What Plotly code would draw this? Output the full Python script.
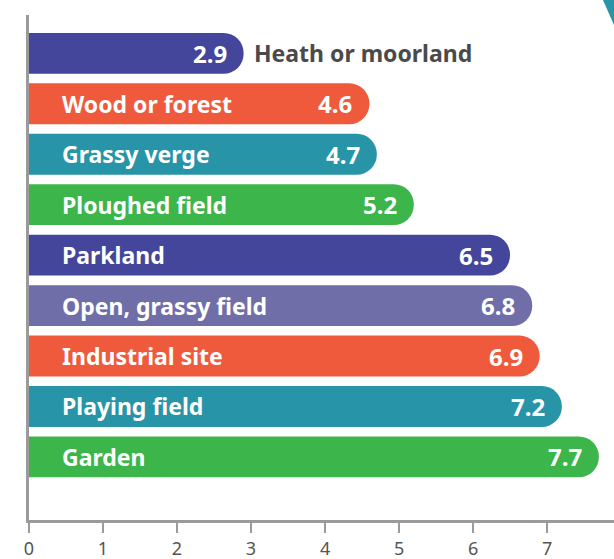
import plotly.graph_objects as go

categories = ["Heath or moorland", "Wood or forest", "Grassy verge", "Ploughed field", "Parkland",
              "Open, grassy field", "Industrial site", "Playing field", "Garden"]
values = [2.9, 4.6, 4.7, 5.2, 6.5, 6.8, 6.9, 7.2, 7.7]
colors = ["#43469b", "#ef5a3c", "#2794a8", "#3cb54a", "#43469b", "#6f6ea9", "#ef5a3c", "#2794a8", "#3cb54a"]
tick_values = [0, 1, 2, 3, 4, 5, 6, 7]

font = "Noto Sans, Open Sans, sans-serif"
positions = list(range(len(categories)))

fig = go.Figure(
    go.Bar(
        x=values,
        y=positions,
        orientation="h",
        width=0.81,
        marker=dict(color=colors, cornerradius=20, line=dict(width=0)),
        hoverinfo="skip",
    )
)

annotations = []
for pos, cat, val in zip(positions, categories, values):
    annotations.append(dict(x=val, y=pos, text=f"<b>{val}</b>", showarrow=False, xanchor="right",
                            xshift=-15, font=dict(family=font, size=24, color="white")))
    if val < 4:
        annotations.append(dict(x=val, y=pos, text=f"<b>{cat}</b>", showarrow=False, xanchor="left",
                                xshift=8, font=dict(family=font, size=23, color="#4a4a4a")))
    else:
        annotations.append(dict(x=0, y=pos, text=f"<b>{cat}</b>", showarrow=False, xanchor="left",
                                xshift=31, font=dict(family=font, size=23, color="white")))

fig.update_layout(
    width=614,
    height=559,
    margin=dict(l=29, r=0, t=15, b=39),
    plot_bgcolor="white",
    paper_bgcolor="white",
    showlegend=False,
    annotations=annotations,
    xaxis=dict(range=[0, 7.905], tickvals=tick_values, showgrid=False, zeroline=False, automargin=False,
               showline=True, linecolor="#9a9a9a", linewidth=3, ticks="outside", ticklen=10,
               tickcolor="#9a9a9a", tickwidth=2, tickfont=dict(family=font, size=18, color="#555555")),
    yaxis=dict(range=[9.25, -0.76], showticklabels=False, showgrid=False, zeroline=False, automargin=False,
               showline=True, linecolor="#9a9a9a", linewidth=3, ticks=""),
    shapes=[dict(type="path", xref="paper", yref="paper",
                 path="M 0.981 1.03 L 1.0 1.03 L 1.0 0.98 Z",
                 fillcolor="#2794a8", line=dict(width=0))],
)

fig.write_html("out.html", config={"displayModeBar": False},
               post_script="document.body.style.margin='0';")
